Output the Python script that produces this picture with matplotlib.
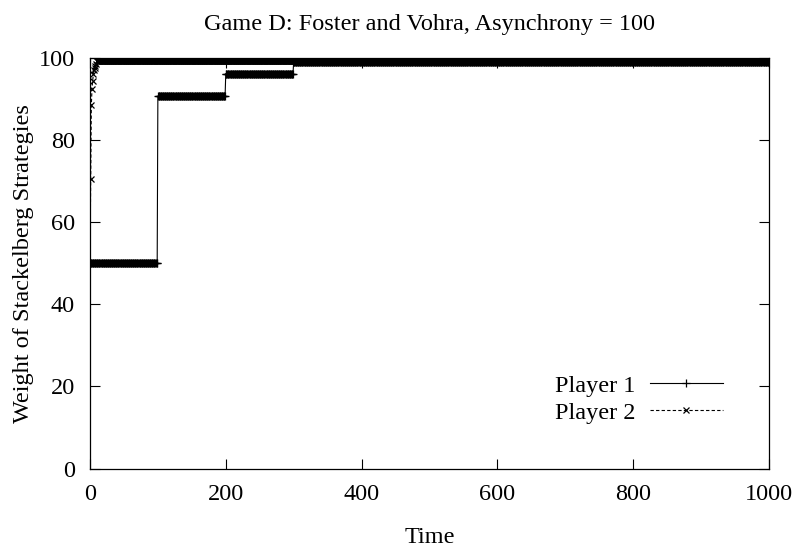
import numpy as np
import matplotlib
matplotlib.use("Agg")
import matplotlib.pyplot as plt

plt.rcParams['font.family'] = ['Liberation Serif', 'DejaVu Serif']
plt.rcParams['mathtext.fontset'] = 'stix'

# ---- data ----
t_max = 1000
# Player 1: step levels and the times at which each level starts
p1_levels = [50.0, 90.7, 96.2, 99.0]
p1_starts = [0, 100, 200, 300]
# Player 2: early values (t = 0, 1, 2, ...) and the level it settles at
p2_early = [50.0, 70.5, 88.5, 92.5, 94.5, 96.0, 97.0, 97.5, 98.0, 98.5]
p2_final = 99.3

time = np.arange(0, t_max + 1)
p1_counts = np.diff(p1_starts + [t_max + 1])
player1 = np.repeat(p1_levels, p1_counts)
player2 = np.concatenate([p2_early, np.full(len(time) - len(p2_early), p2_final)])

title = "Game D: Foster and Vohra, Asynchrony = 100"
x_ticks = [0, 200, 400, 600, 800, 1000]
y_ticks = [0, 20, 40, 60, 80, 100]

FS = 17.5

# ---- figure ----
fig = plt.figure(figsize=(7.99, 5.54), dpi=100)
ax = fig.add_axes([0.1126, 0.1543, 0.8498, 0.741])

ax.plot(time, player1, color='black', lw=0.8, ls='-', marker='+',
        markersize=6, markeredgewidth=0.9, label='Player 1')
ax.plot(time, player2, color='black', lw=0.8, ls=(0, (3, 2)), marker='x',
        markersize=4.5, markeredgewidth=0.9, label='Player 2')

ax.set_xlim(0, 1000)
ax.set_ylim(0, 100)
ax.set_xticks(x_ticks)
ax.set_yticks(y_ticks)
ax.tick_params(direction='in', length=7, width=0.8, top=True, right=True,
               labelsize=FS)
ax.tick_params(axis='x', pad=11)
ax.tick_params(axis='y', pad=11)
for s in ax.spines.values():
    s.set_linewidth(0.9)

ax.set_title(title, fontsize=FS, pad=20)
ax.set_xlabel("Time", fontsize=FS, labelpad=16)
ax.set_ylabel("Weight of Stackelberg Strategies", fontsize=FS, labelpad=3)

leg = ax.legend(loc='lower right', bbox_to_anchor=(0.964, 0.056), frameon=False,
                fontsize=FS, markerfirst=False, handlelength=3.0,
                handletextpad=0.6, labelspacing=0.2, numpoints=1)

fig.savefig("out.png", dpi=100)
